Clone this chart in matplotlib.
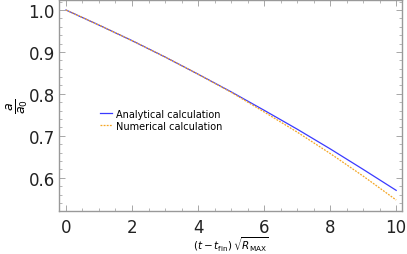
import numpy as np
import matplotlib.pyplot as plt
from matplotlib.ticker import MultipleLocator

# values
t = [0, 1, 2, 3, 4, 5, 6, 7, 8, 9, 10]
analytical = [1.0, 0.964, 0.927, 0.888, 0.847, 0.805, 0.761, 0.716, 0.669, 0.620, 0.570]
numerical = [1.0, 0.964, 0.927, 0.888, 0.847, 0.804, 0.757, 0.709, 0.658, 0.604, 0.547]

fig = plt.figure(figsize=(4.07, 2.55), dpi=100)
ax = fig.add_axes([0.145, 0.169, 0.843, 0.829])

ax.plot(t, analytical, color="#3a3aff", lw=0.9, label="Analytical calculation")
ax.plot(t, numerical, color="#f5a623", lw=0.9, ls=(0, (1.5, 1)), label="Numerical calculation")

ax.set_xlim(-0.21, 10.18)
ax.set_ylim(0.521, 1.025)
ax.set_xticks([0, 2, 4, 6, 8, 10])
ax.set_yticks([0.6, 0.7, 0.8, 0.9, 1.0])
ax.xaxis.set_minor_locator(MultipleLocator(0.5))
ax.yaxis.set_minor_locator(MultipleLocator(0.02))
ax.tick_params(which="both", direction="in", top=True, right=True, color="#999999",
               labelsize=12, labelcolor="#222222")
ax.tick_params(which="major", length=4, width=0.6)
ax.tick_params(which="minor", length=2, width=0.5)
ax.tick_params(axis="x", pad=5)
ax.tick_params(axis="y", pad=3)
for s in ax.spines.values():
    s.set_color("#999999")
    s.set_linewidth(1)

ax.set_xlabel(r"$(t - t_{\rm fin})\,\sqrt{R_{\rm MAX}}$", fontsize=7.5)
ax.xaxis.set_label_coords(0.5, -0.112)
ax.set_ylabel(r"$\frac{a}{a_0}$", fontsize=13)
ax.yaxis.set_label_coords(-0.085, 0.5)

ax.legend(loc="upper left", bbox_to_anchor=(0.095, 0.525), frameon=False, fontsize=7,
          handlelength=1.2, handletextpad=0.4, labelspacing=0.2)

plt.savefig("out.png", dpi=100)
